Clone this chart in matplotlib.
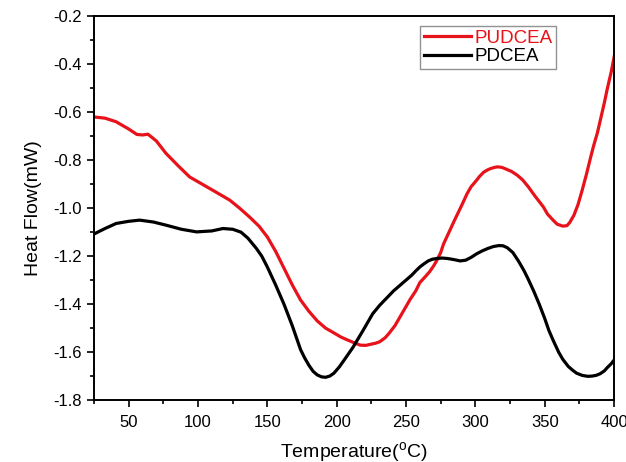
import matplotlib
matplotlib.use("Agg")
import matplotlib.pyplot as plt
from matplotlib.ticker import MultipleLocator, FormatStrFormatter

plt.rcParams['font.family'] = ['Liberation Sans', 'DejaVu Sans']
plt.rcParams['mathtext.fontset'] = 'custom'
plt.rcParams['mathtext.rm'] = 'Liberation Sans'

# PUDCEA (red)
t_pudcea = [25, 33, 41, 50, 56, 60, 64, 70, 77, 86, 94, 106, 115, 123, 130, 137, 144, 150, 156, 162, 168, 174, 180, 186, 192, 198, 203, 208, 213, 217, 221, 224, 228, 231, 235, 238, 242, 246, 250, 253, 257, 260, 264, 267, 270, 272, 275, 277, 281, 285, 290, 294, 297, 300, 303, 306, 309, 311, 314, 316, 319, 322, 326, 330, 334, 338, 343, 349, 352, 356, 359, 363, 366, 368, 371, 374, 377, 380, 383, 385, 388, 390, 393, 395, 398, 400]
v_pudcea = [-0.62, -0.625, -0.64, -0.67, -0.693, -0.695, -0.692, -0.72, -0.772, -0.825, -0.87, -0.91, -0.94, -0.967, -1.0, -1.036, -1.075, -1.12, -1.18, -1.25, -1.32, -1.383, -1.43, -1.47, -1.5, -1.52, -1.537, -1.55, -1.562, -1.571, -1.572, -1.568, -1.563, -1.557, -1.54, -1.52, -1.49, -1.45, -1.41, -1.38, -1.345, -1.31, -1.285, -1.265, -1.24, -1.22, -1.185, -1.15, -1.1, -1.05, -0.99, -0.94, -0.91, -0.89, -0.868, -0.85, -0.84, -0.835, -0.83, -0.828, -0.83, -0.837, -0.847, -0.862, -0.882, -0.91, -0.95, -0.995, -1.025, -1.05, -1.067, -1.075, -1.073, -1.06, -1.03, -0.985, -0.925, -0.86, -0.79, -0.745, -0.685, -0.635, -0.56, -0.505, -0.43, -0.37]

# PDCEA (black)
t_pdcea = [25, 33, 41, 50, 58, 68, 77, 88, 99, 110, 118, 125, 131, 136, 142, 146, 150, 156, 162, 168, 174, 177, 180, 183, 186, 189, 192, 195, 198, 202, 207, 212, 219, 226, 231, 236, 241, 246, 250, 254, 257, 260, 263, 266, 269, 272, 276, 280, 285, 289, 293, 297, 301, 305, 309, 313, 317, 320, 323, 327, 331, 335, 338, 342, 346, 350, 353, 356, 360, 363, 367, 370, 373, 377, 381, 384, 387, 390, 393, 395, 398, 400]
v_pdcea = [-1.108, -1.085, -1.064, -1.055, -1.05, -1.058, -1.071, -1.088, -1.099, -1.095, -1.085, -1.088, -1.1, -1.125, -1.167, -1.2, -1.245, -1.32, -1.4, -1.49, -1.59, -1.625, -1.655, -1.68, -1.695, -1.703, -1.705, -1.7, -1.688, -1.661, -1.62, -1.578, -1.51, -1.44, -1.405, -1.375, -1.345, -1.32, -1.3, -1.28, -1.262, -1.245, -1.232, -1.22, -1.213, -1.21, -1.208, -1.21, -1.215, -1.22, -1.217, -1.205, -1.19, -1.178, -1.168, -1.16, -1.156, -1.157, -1.165, -1.185, -1.22, -1.26, -1.295, -1.345, -1.4, -1.46, -1.51, -1.55, -1.6, -1.63, -1.66, -1.675, -1.688, -1.697, -1.701, -1.70, -1.697, -1.69, -1.678, -1.665, -1.648, -1.633]

fig = plt.figure(figsize=(6.26, 4.62), dpi=100)
ax = fig.add_axes([0.150, 0.134, 0.831, 0.831])

ax.plot(t_pudcea, v_pudcea, color='#e8121a', lw=2.3, label='PUDCEA', solid_joinstyle='round')
ax.plot(t_pdcea, v_pdcea, color='black', lw=2.3, label='PDCEA', solid_joinstyle='round')

ax.set_xlim(25, 400)
ax.set_ylim(-1.8, -0.2)
ax.xaxis.set_major_locator(MultipleLocator(50))
ax.xaxis.set_minor_locator(MultipleLocator(25))
ax.yaxis.set_major_locator(MultipleLocator(0.2))
ax.yaxis.set_minor_locator(MultipleLocator(0.1))
ax.yaxis.set_major_formatter(FormatStrFormatter('%.1f'))
ax.tick_params(which='major', direction='out', length=5, width=1.2, labelsize=12)
ax.tick_params(which='minor', direction='out', length=3, width=1.2)
ax.tick_params(axis='x', pad=6)
for s in ax.spines.values():
    s.set_linewidth(1.4)

ax.set_xlabel(r'Temperature($^{\rm o}$C)', fontsize=14, labelpad=7)
ax.set_ylabel('Heat Flow(mW)', fontsize=14, labelpad=8)

leg = ax.legend(loc='upper left', bbox_to_anchor=(0.627, 0.974), fontsize=13.5,
                frameon=True, fancybox=False, edgecolor='#777777', handlelength=2.5,
                borderpad=0.2, labelspacing=0.05, handletextpad=0.2, borderaxespad=0)
leg.get_frame().set_linewidth(1.0)
for txt, ln in zip(leg.get_texts(), leg.get_lines()):
    txt.set_color(ln.get_color())

fig.savefig('out.png', dpi=100)
